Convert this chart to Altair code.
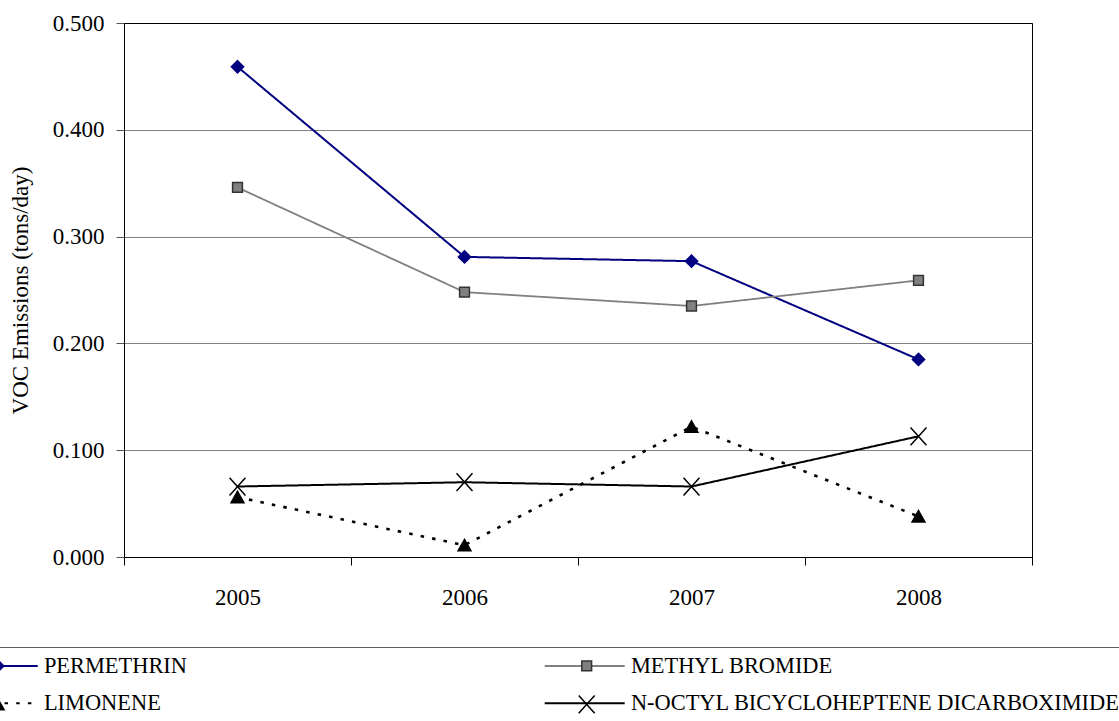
import altair as alt
import pandas as pd

# Emission values by year (tons/day)
years = ["2005", "2006", "2007", "2008"]
# Legend order: entries fill column by column
series_names = [
    "PERMETHRIN",
    "LIMONENE",
    "METHYL BROMIDE",
    "N-OCTYL BICYCLOHEPTENE DICARBOXIMIDE",
]
permethrin = [0.459, 0.281, 0.277, 0.185]
limonene = [0.056, 0.011, 0.122, 0.038]
methyl_bromide = [0.346, 0.248, 0.235, 0.259]
n_octyl = [0.066, 0.070, 0.066, 0.113]

y_ticks = [0.0, 0.1, 0.2, 0.3, 0.4, 0.5]

# Styling per series (same order as series_names)
line_colors = ["#000080", "#000000", "#808080", "#000000"]
line_dashes = [[1, 0], [3.5, 8.2], [1, 0], [1, 0]]
line_widths = [2, 2.6, 1.8, 2]
marker_paths = [
    "M0,-1L1,0L0,1L-1,0Z",
    "M0,-0.95L1.05,0.9L-1.05,0.9Z",
    "M-0.8,-0.8H0.8V0.8H-0.8Z",
    "M-1.3,-1.45L1.3,1.45M1.3,-1.45L-1.3,1.45",
]
marker_fills = ["#000080", "#000000", "#808080", "#000000"]
marker_strokes = ["#000080", "#000000", "#333333", "#000000"]

FONT = "Times New Roman, Liberation Serif, Tinos, serif"

rows = []
series_values = [permethrin, limonene, methyl_bromide, n_octyl]
for i, (name, vals) in enumerate(zip(series_names, series_values)):
    for yr, v in zip(years, vals):
        rows.append({
            "year": yr, "series": name, "series_m": name,
            "order": i, "lw": line_widths[i], "value": v,
        })
df = pd.DataFrame(rows)

x_enc = alt.X(
    "year:O",
    scale=alt.Scale(type="band", paddingInner=0, paddingOuter=0),
    axis=alt.Axis(
        title=None,
        labelAngle=0,
        labelFont=FONT,
        labelFontSize=23,
        labelColor="black",
        labelPadding=21,
        tickBand="extent",
        tickSize=8,
        tickColor="black",
        domainColor="black",
        grid=False,
    ),
)
y_enc = alt.Y(
    "value:Q",
    scale=alt.Scale(domain=[0, 0.5], nice=False),
    axis=alt.Axis(
        title="VOC Emissions (tons/day)",
        titleFont=FONT,
        titleFontSize=23,
        titleFontWeight="normal",
        titleColor="black",
        titleX=-92,
        values=y_ticks,
        format=".3f",
        labelFont=FONT,
        labelFontSize=23,
        labelColor="black",
        labelPadding=12,
        tickSize=8,
        tickColor="#555555",
        domainColor="black",
        grid=True,
        gridColor={"condition": {"test": "datum.value >= 0.5", "value": "#000000"}, "value": "#808080"},
    ),
)

common_legend = dict(
    orient="none",
    legendX=-145,
    legendY=624,
    columns=2,
    rowPadding=14.6,
    padding=7.5,
    labelFont=FONT,
    labelFontSize=22.4,
    labelColor="black",
    labelLimit=1000,
    labelOffset=35,
    title=None,
)
# Line samples with their labels; the bounding box top edge forms the rule above the key
line_legend = alt.Legend(
    symbolType="M-8,0H8",
    symbolSize=100,
    symbolStrokeWidth=2,
    strokeColor="#606060",
    columnPadding=353,
    **common_legend,
)
# Markers laid over the centre of each line sample
marker_legend = alt.Legend(
    symbolSize=150,
    symbolStrokeWidth=1.5,
    symbolOpacity=1,
    labelOpacity=0,
    columnPadding=388,
    **common_legend,
)

marker_sort = alt.EncodingSortField(field="order", op="min")

lines = alt.Chart(df).mark_line().encode(
    x=x_enc,
    y=y_enc,
    stroke=alt.Stroke(
        "series:N",
        scale=alt.Scale(domain=series_names, range=line_colors),
        legend=line_legend,
    ),
    strokeDash=alt.StrokeDash(
        "series:N",
        scale=alt.Scale(domain=series_names, range=line_dashes),
        legend=line_legend,
    ),
    strokeWidth=alt.StrokeWidth("lw:Q", scale=None, legend=None),
)

points = alt.Chart(df).mark_point(filled=False, opacity=1, strokeWidth=1.5, size=150).encode(
    x=x_enc,
    y=y_enc,
    shape=alt.Shape(
        "series_m:N", sort=marker_sort,
        scale=alt.Scale(range=marker_paths), legend=marker_legend,
    ),
    fill=alt.Fill(
        "series_m:N", sort=marker_sort,
        scale=alt.Scale(range=marker_fills), legend=marker_legend,
    ),
    color=alt.Color(
        "series_m:N", sort=marker_sort,
        scale=alt.Scale(range=marker_strokes), legend=marker_legend,
    ),
)

chart = (
    alt.layer(lines, points)
    .properties(
        width=908,
        height=534,
        autosize=alt.AutoSizeParams(type="none"),
        padding={"left": 124, "top": 23, "right": 87, "bottom": 164},
    )
    .configure(font=FONT)
    .configure_view(stroke="black", strokeWidth=1)
)

chart.save("out.html", embed_options={"renderer": "svg", "actions": False})
